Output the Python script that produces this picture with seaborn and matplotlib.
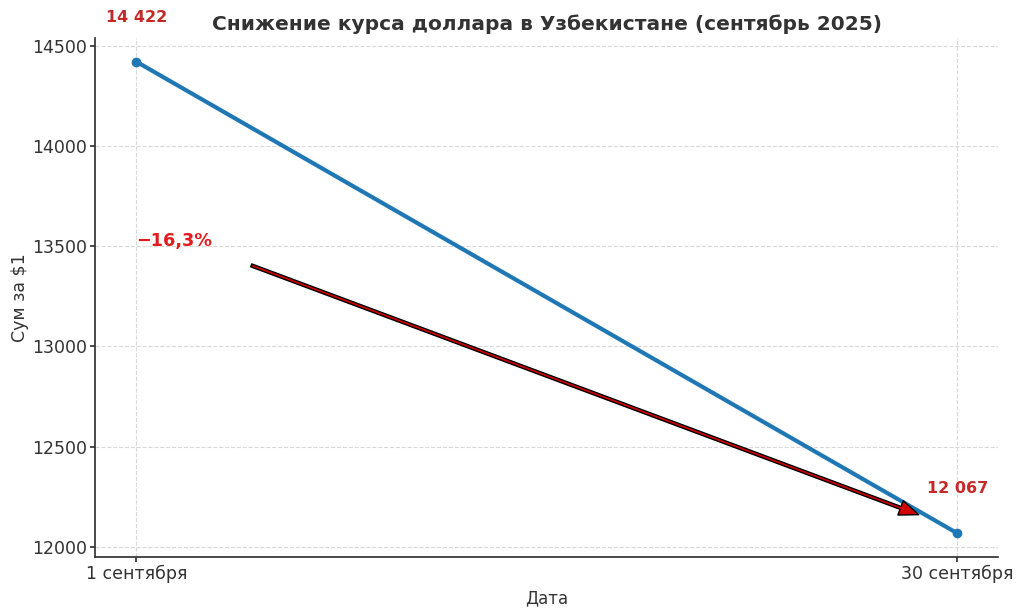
import seaborn as sns
import pandas as pd
import matplotlib.pyplot as plt

sns.set_theme(style="ticks")
plt.rcParams['font.family'] = ['DejaVu Sans']

dates = ["1 сентября", "30 сентября"]
rates = [14422, 12067]
rate_labels = ["14 422", "12 067"]
change_label = "−16,3%"

data = pd.DataFrame({"Дата": dates, "Сум за $1": rates})

fig, ax = plt.subplots(figsize=(10.24, 6.14), dpi=100)
fig.subplots_adjust(left=0.093, right=0.975, bottom=0.093, top=0.938)

sns.lineplot(data=data, x="Дата", y="Сум за $1", marker="o", markersize=7,
             linewidth=3, color="#1f77b4", markeredgewidth=0, ax=ax)

# подписи значений над точками
for i, (v, lab) in enumerate(zip(rates, rate_labels)):
    ax.annotate(lab, xy=(i, v), xytext=(0, 32), textcoords="offset points",
                ha="center", va="center", fontsize=11.5, fontweight="bold",
                color="#c62828")

# стрелка снижения
ax.annotate("", xy=(0.953, 12160), xytext=(0.14, 13405),
            arrowprops=dict(facecolor="#d40000", edgecolor="black", width=2.2,
                            headwidth=11, headlength=14, linewidth=1))
ax.text(0, 13527, change_label, color="#e31a1c", fontsize=12.7,
        fontweight="bold", ha="left", va="center")

ax.set_title("Снижение курса доллара в Узбекистане (сентябрь 2025)",
             fontsize=14.5, fontweight="bold", color="#333333")
ax.set_xlabel("Дата", fontsize=12, color="#333333")
ax.set_ylabel("Сум за $1", fontsize=12.5, color="#333333", labelpad=2)
ax.tick_params(labelsize=12.5, colors="#333333", length=3.5, pad=2.5)
ax.grid(True, linestyle="--", color="#d8d8d8", linewidth=0.8)
ax.set_yticks([12000, 12500, 13000, 13500, 14000, 14500])
sns.despine(ax=ax)
for s in ["left", "bottom"]:
    ax.spines[s].set_color("#333333")

plt.savefig("out.png", dpi=100)
